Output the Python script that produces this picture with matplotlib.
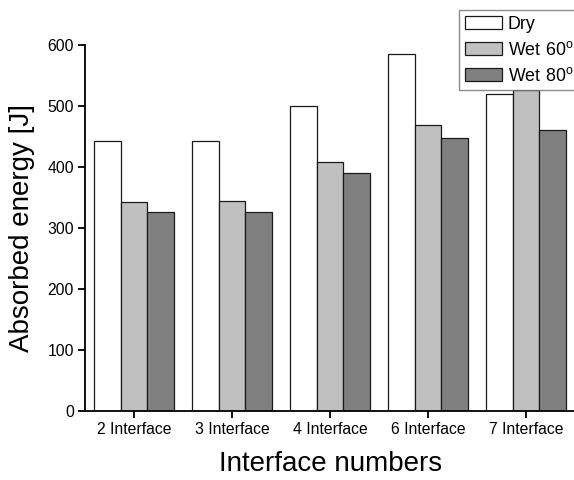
import matplotlib
matplotlib.use("Agg")
import matplotlib.pyplot as plt
import numpy as np

plt.rcParams['font.family'] = ['Liberation Sans', 'DejaVu Sans']

categories = ["2 Interface", "3 Interface", "4 Interface", "6 Interface", "7 Interface"]
dry = [443, 443, 500, 586, 519]
wet60 = [342, 345, 408, 469, 527]
wet80 = [327, 327, 390, 448, 460]
series_labels = ["Dry", r"$\mathregular{Wet\ 60^o}$", r"$\mathregular{Wet\ 80^o}$"]
series_colors = ["#ffffff", "#c0c0c0", "#808080"]

fig = plt.figure(figsize=(5.74, 4.8), dpi=100)
ax = fig.add_axes([85/574, 1-411/480, 1-85/574 + 0.002, (411-45)/480])

x = np.arange(len(categories))
w = 0.27
handles = []
for i, (vals, col, lab) in enumerate(zip([dry, wet60, wet80], series_colors, series_labels)):
    h = ax.bar(x + (i-1)*w, vals, width=w, color=col, edgecolor="#1a1a1a",
               linewidth=0.9, label=lab, zorder=2)
    handles.append(h)

ax.set_xlim(-0.5, 4.5)
ax.set_ylim(0, 600)
ax.set_yticks(np.arange(0, 601, 100))
ax.set_xticks(x)
ax.set_xticklabels(categories)
for s in ["top", "right"]:
    ax.spines[s].set_visible(False)
for s in ["left", "bottom"]:
    ax.spines[s].set_linewidth(1.3)
ax.tick_params(axis="both", direction="out", length=5, width=1.3, labelsize=11.3, pad=3)

ax.set_ylabel("Absorbed energy [J]", fontsize=20, labelpad=9)
ax.set_xlabel("Interface numbers", fontsize=20, labelpad=10)

leg = fig.legend(handles=handles, loc="upper left", bbox_to_anchor=(459/574, 1-10/480),
                 fontsize=12.8, frameon=True, fancybox=False, edgecolor="#707070",
                 handlelength=2.1, handleheight=0.76, handletextpad=0.32,
                 labelspacing=0.45, borderpad=0.32, borderaxespad=0)
leg.get_frame().set_linewidth(1.0)

fig.savefig("out.png", dpi=100)
